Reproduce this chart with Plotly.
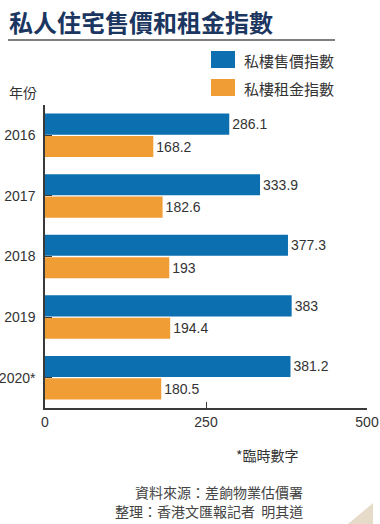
import plotly.graph_objects as go

years = ["2016", "2017", "2018", "2019", "2020*"]
sale_index = [286.1, 333.9, 377.3, 383, 381.2]
rent_index = [168.2, 182.6, 193, 194.4, 180.5]
sale_labels = ["286.1", "333.9", "377.3", "383", "381.2"]
rent_labels = ["168.2", "182.6", "193", "194.4", "180.5"]
series_names = ["私樓售價指數", "私樓租金指數"]
x_ticks = [0, 250, 500]

BLUE = "#0b6fb0"
ORANGE = "#f09d36"
NAVY = "#1b3660"
TXT = "#333333"
NUM_FONT = "Liberation Sans Narrow, Arial Narrow, Liberation Sans, sans-serif"
CJK = "Noto Sans CJK TC, Noto Sans CJK SC, sans-serif"

W, H = 380, 524
L, R, T, B = 45, 13, 105, 116
PW, PH = W - L - R, H - T - B


def px(x):
    return (x - L) / PW


def py(y):
    return (H - B - y) / PH


fig = go.Figure()
fig.add_trace(go.Bar(
    y=years, x=sale_index, orientation="h", name=series_names[0],
    marker=dict(color=BLUE, line=dict(width=0)),
    text=sale_labels, textposition="outside", cliponaxis=False,
    textfont=dict(family=NUM_FONT, size=14, color=TXT), showlegend=False,
))
fig.add_trace(go.Bar(
    y=years, x=rent_index, orientation="h", name=series_names[1],
    marker=dict(color=ORANGE, line=dict(width=0)),
    text=rent_labels, textposition="outside", cliponaxis=False,
    textfont=dict(family=NUM_FONT, size=14, color=TXT), showlegend=False,
))

fig.update_layout(
    width=W, height=H,
    margin=dict(l=L, r=R, t=T, b=B, autoexpand=False),
    paper_bgcolor="white", plot_bgcolor="white",
    barmode="group", bargap=0.26, bargroupgap=0.06,
    showlegend=False,
    font=dict(family=NUM_FONT, color=TXT),
    xaxis=dict(
        range=[0, 500], tickvals=x_ticks, ticktext=[str(v) for v in x_ticks],
        showgrid=False, zeroline=False, showline=True, linecolor="#3a3a3a", linewidth=1.5,
        ticks="inside", ticklen=6, tickcolor="#3a3a3a", tickwidth=1.2,
        tickfont=dict(family=NUM_FONT, size=14, color=TXT), fixedrange=True,
        automargin=False,
    ),
    yaxis=dict(
        autorange="reversed", showgrid=False, zeroline=False,
        showline=True, linecolor="#3a3a3a", linewidth=1.5,
        ticks="inside", ticklen=7, tickcolor="#3a3a3a", tickwidth=1.2,
        tickfont=dict(family=NUM_FONT, size=14, color=TXT), ticklabelstandoff=5,
        automargin=False, fixedrange=True,
    ),
)

shapes = [
    dict(type="line", xref="paper", yref="paper", x0=px(8), x1=px(335), y0=py(40), y1=py(40),
         line=dict(color="#555555", width=1.5)),
    dict(type="rect", xref="paper", yref="paper", x0=px(211), x1=px(235), y0=py(68), y1=py(51),
         fillcolor=BLUE, line=dict(width=0)),
    dict(type="rect", xref="paper", yref="paper", x0=px(211), x1=px(235), y0=py(96), y1=py(79),
         fillcolor=ORANGE, line=dict(width=0)),
    dict(type="path", xref="paper", yref="paper",
         path=f"M {px(373)} {py(503)} L {px(373)} {py(524)} L {px(348)} {py(524)} Z",
         fillcolor="#e6dac9", line=dict(width=0)),
]
fig.update_layout(shapes=shapes)

annotations = [
    dict(text="<b>私人住宅售價和租金指數</b>", x=px(7), y=py(22), xanchor="left", yanchor="middle",
         font=dict(family=CJK, size=24, color=NAVY)),
    dict(text=series_names[0], x=px(242), y=py(60), xanchor="left", yanchor="middle",
         font=dict(family=CJK, size=15, color=TXT)),
    dict(text=series_names[1], x=px(242), y=py(88), xanchor="left", yanchor="middle",
         font=dict(family=CJK, size=15, color=TXT)),
    dict(text="年份", x=px(7), y=py(92), xanchor="left", yanchor="middle",
         font=dict(family=CJK, size=14, color=TXT)),
    dict(text="*臨時數字", x=px(301), y=py(455), xanchor="right", yanchor="middle",
         font=dict(family=CJK, size=14, color=TXT)),
    dict(text="資料來源：差餉物業估價署", x=px(305), y=py(492), xanchor="right", yanchor="middle",
         font=dict(family=CJK, size=14, color="#444444")),
    dict(text="整理：香港文匯報記者  明其道", x=px(305), y=py(511), xanchor="right", yanchor="middle",
         font=dict(family=CJK, size=14, color="#444444")),
]
for a in annotations:
    a.update(xref="paper", yref="paper", showarrow=False)
fig.update_layout(annotations=annotations)

fig.write_html(
    "out.html",
    config={"displayModeBar": False, "staticPlot": False},
    post_script="document.body.style.margin='0';document.body.style.padding='0';",
)
